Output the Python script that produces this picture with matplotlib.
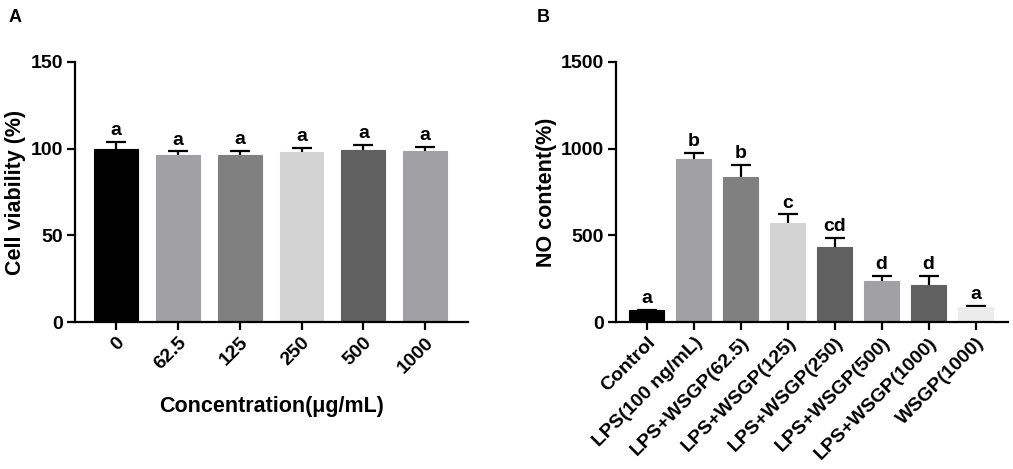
import matplotlib
matplotlib.use("Agg")
import matplotlib.pyplot as plt

plt.rcParams['font.family'] = ['Liberation Sans', 'DejaVu Sans']
plt.rcParams['font.weight'] = 'bold'

# panel A: cell viability
conc_labels = ['0', '62.5', '125', '250', '500', '1000']
viability = [99.6, 96.2, 96.3, 97.9, 99.2, 98.5]
viability_err = [4.5, 2.2, 2.3, 2.6, 3.0, 2.6]
viability_letters = ['a', 'a', 'a', 'a', 'a', 'a']
colors_a = ['#000000', '#a0a0a5', '#808080', '#d3d3d3', '#606060', '#a0a0a5']

# panel B: NO content
groups = ['Control', 'LPS(100 ng/mL)', 'LPS+WSGP(62.5)', 'LPS+WSGP(125)',
          'LPS+WSGP(250)', 'LPS+WSGP(500)', 'LPS+WSGP(1000)', 'WSGP(1000)']
no_content = [69, 939, 835, 573, 431, 237, 217, 88]
no_err = [4, 38, 72, 48, 54, 32, 50, 8]
no_letters = ['a', 'b', 'b', 'c', 'cd', 'd', 'd', 'a']
colors_b = ['#000000', '#a0a0a5', '#808080', '#d3d3d3', '#606060',
            '#a0a0a5', '#606060', '#ececec']


def bar_panel(ax, labels, vals, errs, letters, colors, width, ymax, step, gap):
    x = range(len(vals))
    # error bars behind the bars, so only the upper half shows (GraphPad style)
    ax.errorbar(x, vals, yerr=errs, fmt='none', ecolor='black',
                elinewidth=1.6, capsize=7, capthick=1.6, zorder=1)
    ax.bar(x, vals, width=width, color=colors, edgecolor=colors, linewidth=0.8, zorder=2)
    for i, (v, e, t) in enumerate(zip(vals, errs, letters)):
        ax.text(i, v + e + gap, t, ha='center', va='bottom', fontsize=14, fontweight='bold')
    ax.set_ylim(0, ymax)
    ax.set_yticks(range(0, ymax + 1, step))
    ax.set_xlim(-0.66, len(vals) - 1 + 0.69)
    ax.set_xticks(list(x))
    ax.set_xticklabels(labels, rotation=45, ha='right', rotation_mode='anchor')
    for s in ['top', 'right']:
        ax.spines[s].set_visible(False)
    for s in ['left', 'bottom']:
        ax.spines[s].set_linewidth(1.6)
    ax.tick_params(width=1.6, length=5.5, labelsize=14, pad=3)
    for lab in ax.get_xticklabels() + ax.get_yticklabels():
        lab.set_fontweight('bold')


fig = plt.figure(figsize=(10.13, 4.69), dpi=100)

axA = fig.add_axes([0.074, 0.313, 0.388, 0.555])
bar_panel(axA, conc_labels, viability, viability_err, viability_letters, colors_a,
          0.71, 150, 50, 1.5)
axA.set_ylabel('Cell viability (%)', fontsize=15.5, fontweight='bold', labelpad=3)
axA.set_xlabel('Concentration(μg/mL)', fontsize=15.5, fontweight='bold', labelpad=14)

axB = fig.add_axes([0.608, 0.313, 0.387, 0.555])
bar_panel(axB, groups, no_content, no_err, no_letters, colors_b,
          0.75, 1500, 500, 15)
axB.set_ylabel('NO content(%)', fontsize=15.5, fontweight='bold', labelpad=3)

fig.text(0.008, 0.962, 'A', fontsize=13, fontweight='bold', va='center')
fig.text(0.530, 0.962, 'B', fontsize=13, fontweight='bold', va='center')

fig.savefig('out.png', dpi=100)
